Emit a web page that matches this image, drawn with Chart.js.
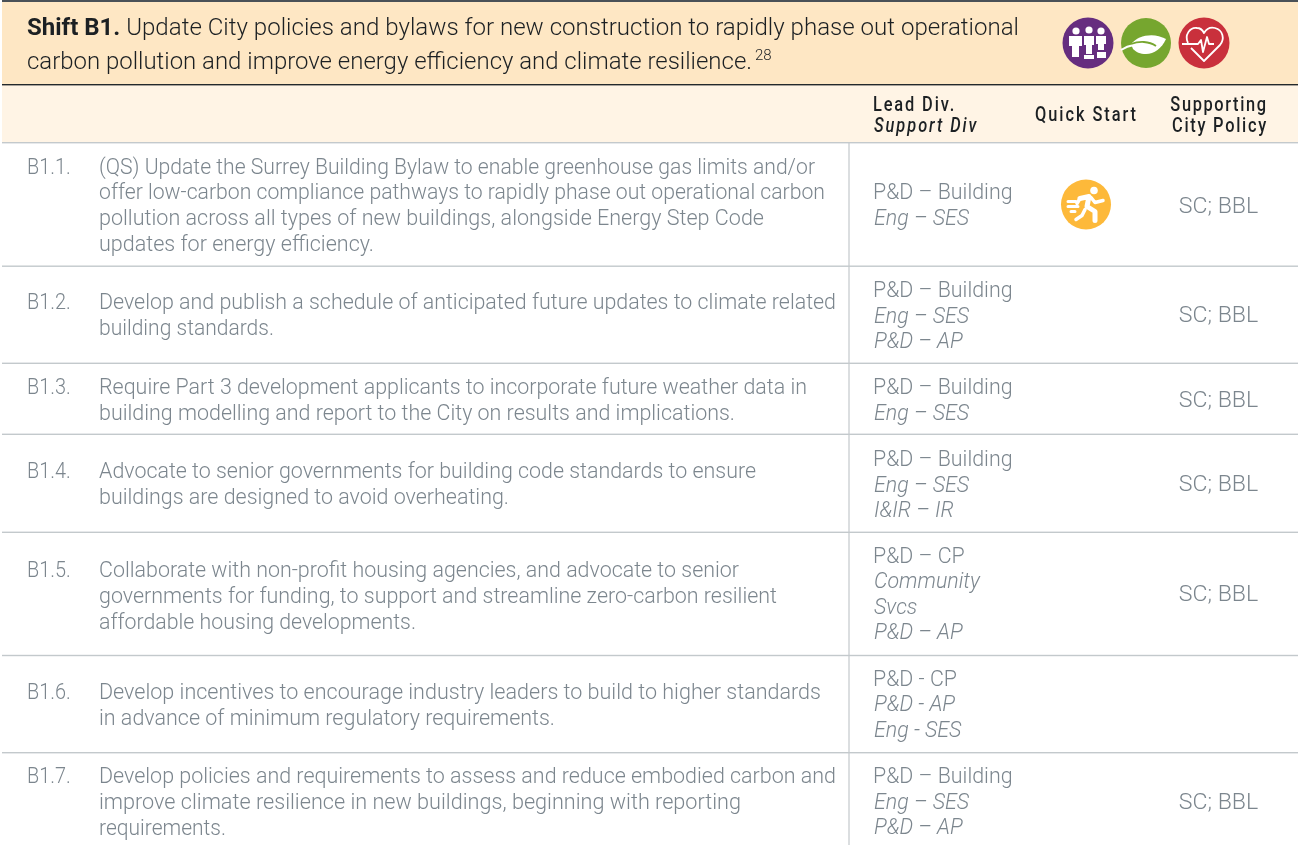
<!DOCTYPE html>
<html>
<head>
<meta charset="utf-8">
<style>
  html, body { margin: 0; padding: 0; background: #fff; }
  canvas { display: block; }
</style>
<script src="https://cdn.jsdelivr.net/npm/chart.js@4"></script>
</head>
<body>
<canvas id="shiftTable" width="1298" height="845"></canvas>
<script>
// table content
var titleBold = "Shift B1.";
var titleLines = [" Update City policies and bylaws for new construction to rapidly phase out operational", "carbon pollution and improve energy efficiency and climate resilience."];
var titleNote = "28";
var actionIds = ["B1.1.", "B1.2.", "B1.3.", "B1.4.", "B1.5.", "B1.6.", "B1.7."];
var actions = [
  ["(QS) Update the Surrey Building Bylaw to enable greenhouse gas limits and/or", "offer low-carbon compliance pathways to rapidly phase out operational carbon", "pollution across all types of new buildings, alongside Energy Step Code", "updates for energy efficiency."],
  ["Develop and publish a schedule of anticipated future updates to climate related", "building standards."],
  ["Require Part 3 development applicants to incorporate future weather data in", "building modelling and report to the City on results and implications."],
  ["Advocate to senior governments for building code standards to ensure", "buildings are designed to avoid overheating."],
  ["Collaborate with non-profit housing agencies, and advocate to senior", "governments for funding, to support and streamline zero-carbon resilient", "affordable housing developments."],
  ["Develop incentives to encourage industry leaders to build to higher standards", "in advance of minimum regulatory requirements."],
  ["Develop policies and requirements to assess and reduce embodied carbon and", "improve climate resilience in new buildings, beginning with reporting", "requirements."]
];
var leadDivs = ["P&D – Building", "P&D – Building", "P&D – Building", "P&D – Building", "P&D – CP", "P&D - CP", "P&D – Building"];
var supportDivs = [
  ["Eng – SES"],
  ["Eng – SES", "P&D – AP"],
  ["Eng – SES"],
  ["Eng – SES", "I&IR – IR"],
  ["Community", "Svcs", "P&D – AP"],
  ["P&D - AP", "Eng - SES"],
  ["Eng – SES", "P&D – AP"]
];
var cityPolicies = ["SC; BBL", "SC; BBL", "SC; BBL", "SC; BBL", "SC; BBL", "", "SC; BBL"];

// page layout, the axes run 1:1 with the picture
var rowRules = [142, 265.5, 362.6, 433.6, 531.6, 654.8, 752];
var actionY = [173.5, 309, 394, 478, 577, 699, 783];
var actionEnds = [[815, 825, 764, 374], [836, 274], [807, 735], [756, 509], [739, 777, 416], [821, 555], [836, 741, 226]];
var leadY = [199, 297, 394, 466, 562.5, 685.5, 783];
var policyY = [212.5, 322, 407, 491, 600.5, 0, 809];
var iconX = [1088, 1146, 1204, 1086];
var iconY = [43, 43, 43, 204.5];
var iconR = [25.5, 25, 25.5, 25];
var iconColors = ["#662d7f", "#76a62f", "#c9303c", "#fdb93a"];

var grey = "#7c868e";
var dark = "#1c2023";
var bodyFont = '300 21.4px Roboto, "Open Sans", sans-serif';
var italicFont = 'italic 300 21.4px Roboto, "Open Sans", sans-serif';
var titleFont = '300 24px Roboto, sans-serif';
var headFont = '500 21px Roboto, sans-serif';
var headItalic = 'italic 500 21px Roboto, sans-serif';

// writes one line of text, squeeze changes its width only
function put(ctx, text, x, y, font, color, align, spacing, squeeze) {
  var sq = squeeze || 1;
  ctx.save();
  ctx.translate(x, y);
  ctx.scale(sq, 1);
  ctx.font = font;
  ctx.fillStyle = color;
  ctx.textAlign = align || "left";
  ctx.letterSpacing = spacing || "0px";
  ctx.fillText(text, 0, 0);
  var w = ctx.measureText(text).width * sq;
  ctx.restore();
  return w;
}

// same, stretched so the line stops at endX like in the original
function putFit(ctx, text, x, endX, y, font, color) {
  ctx.font = font;
  var natural = ctx.measureText(text).width;
  return put(ctx, text, x, y, font, color, "left", "0px", (endX - x) / natural);
}

function peopleGlyph(ctx, cx, cy) {
  var heads = [[-12, -12], [1, -13], [13, -12]];
  ctx.fillStyle = "#fff";
  heads.forEach(function (o) {
    ctx.beginPath();
    ctx.arc(cx + o[0], cy + o[1], 3.6, 0, Math.PI * 2);
    ctx.fill();
  });
  ctx.fillRect(cx - 19, cy - 7, 13, 10);
  ctx.fillRect(cx - 16, cy + 3, 7, 11);
  ctx.fillRect(cx - 4, cy - 7, 10, 9);
  ctx.fillRect(cx - 2, cy + 2, 6, 9);
  ctx.fillRect(cx - 4, cy + 12, 10, 4);
  ctx.fillRect(cx + 8, cy - 7, 10, 8);
  ctx.fillRect(cx + 10, cy + 1, 6, 6);
  ctx.fillRect(cx + 9, cy + 9, 9, 6);
}

function leafGlyph(ctx, cx, cy) {
  ctx.fillStyle = "#fff";
  ctx.beginPath();
  ctx.moveTo(cx - 15, cy + 1);
  ctx.bezierCurveTo(cx - 8, cy - 8, cx + 8, cy - 11, cx + 20, cy - 4);
  ctx.bezierCurveTo(cx + 16, cy + 5, cx + 8, cy + 11, cx, cy + 11);
  ctx.bezierCurveTo(cx - 6, cy + 11, cx - 10, cy + 9, cx - 13, cy + 6);
  ctx.closePath();
  ctx.fill();
  ctx.strokeStyle = "#fff";
  ctx.lineWidth = 2;
  ctx.beginPath();
  ctx.moveTo(cx - 25, cy + 7);
  ctx.quadraticCurveTo(cx - 19, cy + 3, cx - 12, cy + 2);
  ctx.stroke();
  ctx.strokeStyle = "#76a62f";
  ctx.lineWidth = 1.8;
  ctx.beginPath();
  ctx.moveTo(cx - 15, cy + 1);
  ctx.bezierCurveTo(cx - 7, cy - 2, cx + 3, cy - 2, cx + 10, cy + 3);
  ctx.stroke();
}

function heartGlyph(ctx, cx, cyTop) {
  var cy = cyTop + 1;
  ctx.strokeStyle = "#fff";
  ctx.lineWidth = 1.8;
  ctx.lineJoin = "round";
  ctx.beginPath();
  ctx.moveTo(cx - 16, cy - 1);
  ctx.bezierCurveTo(cx - 20, cy - 9, cx - 14, cy - 17, cx - 7, cy - 16);
  ctx.bezierCurveTo(cx - 3, cy - 16, cx - 1, cy - 13, cx, cy - 11);
  ctx.bezierCurveTo(cx + 3, cy - 16, cx + 7, cy - 17, cx + 11, cy - 16);
  ctx.bezierCurveTo(cx + 19, cy - 14, cx + 21, cy - 5, cx + 16, cy + 1);
  ctx.lineTo(cx, cy + 17);
  ctx.lineTo(cx - 13, cy + 4);
  ctx.stroke();
  ctx.beginPath();
  ctx.moveTo(cx - 22, cy);
  ctx.lineTo(cx - 6, cy);
  ctx.lineTo(cx - 3, cy - 4);
  ctx.lineTo(cx - 1, cy + 8);
  ctx.lineTo(cx + 3, cy - 7);
  ctx.lineTo(cx + 5, cy);
  ctx.lineTo(cx + 10, cy);
  ctx.stroke();
}

function runnerGlyph(ctx, cx, cy) {
  ctx.fillStyle = "#fff";
  ctx.strokeStyle = "#fff";
  ctx.lineCap = "round";
  ctx.lineJoin = "round";
  ctx.beginPath();
  ctx.arc(cx + 8, cy - 14, 3.8, 0, Math.PI * 2);
  ctx.fill();
  ctx.lineWidth = 5;
  ctx.beginPath();
  ctx.moveTo(cx - 6, cy - 6);
  ctx.lineTo(cx + 3, cy - 8);
  ctx.lineTo(cx + 1, cy + 2);
  ctx.lineTo(cx + 9, cy + 7);
  ctx.lineTo(cx + 9, cy + 16);
  ctx.stroke();
  ctx.lineWidth = 3.5;
  ctx.beginPath();
  ctx.moveTo(cx + 5, cy - 7);
  ctx.lineTo(cx + 9, cy - 2);
  ctx.lineTo(cx + 17, cy - 4);
  ctx.moveTo(cx - 1, cy + 5);
  ctx.lineTo(cx - 4, cy + 11);
  ctx.lineTo(cx - 10, cy + 15);
  ctx.moveTo(cx - 6, cy - 6);
  ctx.lineTo(cx - 9, cy - 1);
  ctx.stroke();
  ctx.lineWidth = 3;
  ctx.beginPath();
  ctx.moveTo(cx - 18, cy - 3); ctx.lineTo(cx - 10, cy - 3);
  ctx.moveTo(cx - 18, cy + 2); ctx.lineTo(cx - 8, cy + 2);
  ctx.moveTo(cx - 15, cy + 7); ctx.lineTo(cx - 11, cy + 7);
  ctx.stroke();
  ctx.lineCap = "butt";
}

var tablePlugin = {
  id: "tablePlugin",
  beforeDatasetsDraw: function (chart) {
    var ctx = chart.ctx, sx = chart.scales.x, sy = chart.scales.y;
    ctx.save();
    var left = sx.getPixelForValue(2);
    ctx.fillStyle = "#fee7c4";
    ctx.fillRect(left, sy.getPixelForValue(2), 1296, 82);
    ctx.fillStyle = "#fff4e5";
    ctx.fillRect(left, sy.getPixelForValue(85), 1296, 57);
    ctx.fillStyle = "#4a5157";
    ctx.fillRect(left, sy.getPixelForValue(0), 1296, 2);
    ctx.fillStyle = "#23282b";
    ctx.fillRect(left, sy.getPixelForValue(84), 1296, 1.4);
    ctx.fillStyle = "#c3c9cc";
    rowRules.forEach(function (r) {
      ctx.fillRect(left, sy.getPixelForValue(r), 1296, 1.4);
    });
    ctx.fillRect(sx.getPixelForValue(848.4), sy.getPixelForValue(143), 1.2, 702);
    ctx.restore();
  },
  afterDatasetsDraw: function (chart) {
    var ctx = chart.ctx, sx = chart.scales.x, sy = chart.scales.y;
    var px = function (v) { return sx.getPixelForValue(v); };
    var py = function (v) { return sy.getPixelForValue(v); };
    ctx.save();
    ctx.textBaseline = "alphabetic";

    // title band
    var w = put(ctx, titleBold, px(27), py(35), '700 24px Roboto, sans-serif', dark);
    putFit(ctx, titleLines[0], px(27) + w, px(1019), py(35), titleFont, dark);
    var w2 = putFit(ctx, titleLines[1], px(27), px(752), py(69), titleFont, dark);
    put(ctx, titleNote, px(27) + w2 + 3, py(60), '300 15px Roboto, sans-serif', dark);

    // column heads
    put(ctx, "Lead Div.", px(873), py(110.5), headFont, dark, "left", "2.4px", 0.78);
    put(ctx, "Support Div", px(874), py(131.5), headItalic, dark, "left", "2.5px", 0.78);
    put(ctx, "Quick Start", px(1086.5), py(120.5), headFont, dark, "center", "2.5px", 0.78);
    put(ctx, "Supporting", px(1219), py(110.5), headFont, dark, "center", "2.1px", 0.78);
    put(ctx, "City Policy", px(1220), py(131.5), headFont, dark, "center", "2.2px", 0.78);

    // rows
    actionIds.forEach(function (id, i) {
      put(ctx, id, px(27), py(actionY[i]), bodyFont, grey, "left", "0px", 0.93);
      actions[i].forEach(function (line, k) {
        putFit(ctx, line, px(99), px(actionEnds[i][k]), py(actionY[i] + k * 25.8), bodyFont, grey);
      });
      put(ctx, leadDivs[i], px(873), py(leadY[i]), bodyFont, grey);
      supportDivs[i].forEach(function (line, k) {
        put(ctx, line, px(874), py(leadY[i] + (k + 1) * 25.5), italicFont, grey);
      });
      if (cityPolicies[i]) {
        put(ctx, cityPolicies[i], px(1218.5), py(policyY[i]), bodyFont, grey, "center", "0px", 1.08);
      }
    });

    // white glyphs on top of the icon points
    peopleGlyph(ctx, px(iconX[0]), py(iconY[0]));
    leafGlyph(ctx, px(iconX[1]), py(iconY[1]));
    heartGlyph(ctx, px(iconX[2]), py(iconY[2]));
    runnerGlyph(ctx, px(iconX[3]), py(iconY[3]));
    ctx.restore();
  }
};

new Chart(document.getElementById("shiftTable"), {
  type: "scatter",
  data: {
    datasets: [{
      label: "Icons",
      data: iconX.map(function (x, i) { return { x: x, y: iconY[i] }; }),
      pointRadius: iconR,
      pointBackgroundColor: iconColors,
      pointBorderWidth: 0
    }]
  },
  options: {
    responsive: false,
    animation: false,
    layout: { padding: 0, autoPadding: false },
    plugins: { legend: { display: false }, tooltip: { enabled: false } },
    scales: {
      x: { type: "linear", min: 0, max: 1298, display: false },
      y: { type: "linear", min: 0, max: 845, reverse: true, display: false }
    }
  },
  plugins: [tablePlugin]
});
</script>
</body>
</html>
